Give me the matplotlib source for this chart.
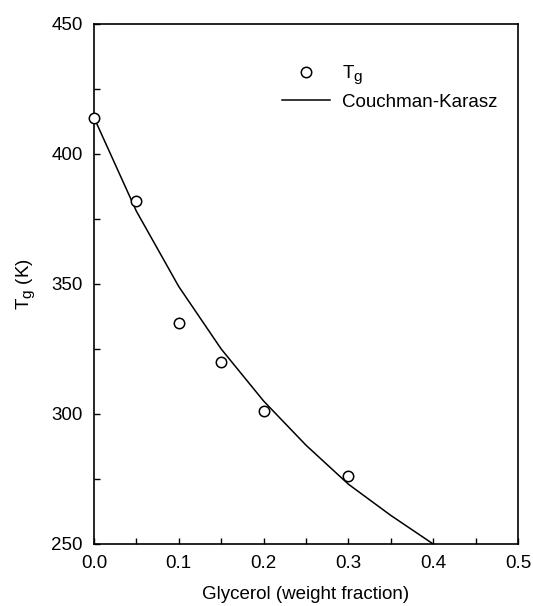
import matplotlib
matplotlib.use("Agg")
import matplotlib.pyplot as plt
from matplotlib.ticker import MultipleLocator, FormatStrFormatter
try:
    import matplotlib._mathtext as _mt
    _mt.SHRINK_FACTOR = 0.82
except Exception:
    pass

plt.rcParams['font.family'] = ['Liberation Sans', 'DejaVu Sans']
plt.rcParams['mathtext.fontset'] = 'custom'
plt.rcParams['mathtext.rm'] = 'Liberation Sans'

# measured Tg
x_meas = [0.0, 0.05, 0.10, 0.15, 0.20, 0.30]
tg_meas = [414, 382, 335, 320, 301, 276]

# Couchman-Karasz fit
x_ck = [0.0, 0.05, 0.10, 0.15, 0.20, 0.25, 0.30, 0.35, 0.40]
tg_ck = [414, 378, 349, 325, 305, 288, 273, 261, 250]

W, H = 533, 606
fig = plt.figure(figsize=(W/100, H/100), dpi=100)
ax = fig.add_axes([94/W, 1-544/H, (518-94)/W, (544-24)/H])

ax.plot(x_ck, tg_ck, color='black', lw=1.1, label='Couchman-Karasz', zorder=2)
ax.plot(x_meas, tg_meas, ls='none', marker='o', ms=7.5, mfc='white', mec='black',
        mew=1.1, label='T$_\\mathregular{g}$', zorder=3, clip_on=False)

ax.set_xlim(0, 0.5)
ax.set_ylim(250, 450)
ax.xaxis.set_major_locator(MultipleLocator(0.1))
ax.xaxis.set_minor_locator(MultipleLocator(0.05))
ax.yaxis.set_major_locator(MultipleLocator(50))
ax.yaxis.set_minor_locator(MultipleLocator(25))
ax.xaxis.set_major_formatter(FormatStrFormatter('%.1f'))
ax.tick_params(which='both', direction='in', length=4, width=1, labelsize=13.5,
               top=False, right=False, pad=8)
for s in ax.spines.values():
    s.set_linewidth(1.2)

ax.set_xlabel('Glycerol (weight fraction)', fontsize=13.5, labelpad=10)
ax.set_ylabel('T$_\\mathregular{g}$ (K)', fontsize=13.5, labelpad=10)

handles, labels = ax.get_legend_handles_labels()
leg = ax.legend(handles[::-1], labels[::-1], loc='upper right',
                bbox_to_anchor=(0.99, 0.955), frameon=False, fontsize=13.5,
                handlelength=2.6, handletextpad=0.6, labelspacing=0.35)

fig.savefig('out.png', dpi=100)
